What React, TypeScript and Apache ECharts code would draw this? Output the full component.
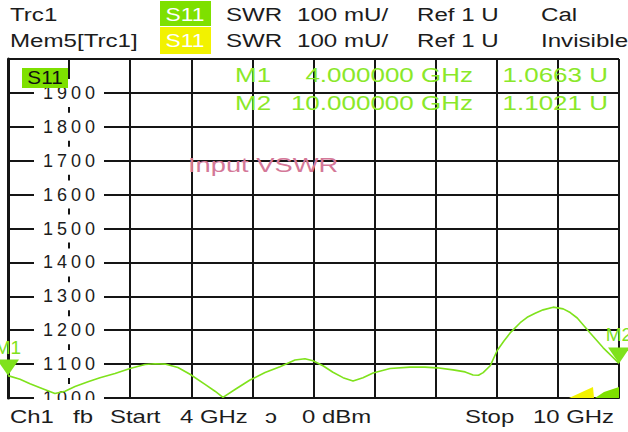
import React, { useEffect, useRef } from 'react';
import * as echarts from 'echarts';

// ---- data ----
const freqGHz = [
  4.0, 4.118, 4.216, 4.334, 4.461, 4.56, 4.658, 4.786, 4.903, 5.051, 5.198, 5.346, 5.444, 5.542,
  5.669, 5.787, 5.935, 6.033, 6.111, 6.229, 6.376, 6.524, 6.671, 6.818, 6.916, 6.995, 7.093, 7.191,
  7.29, 7.388, 7.486, 7.585, 7.752, 7.948, 8.095, 8.213, 8.371, 8.489, 8.567, 8.62, 8.666, 8.735,
  8.804, 8.87, 8.931, 9.03, 9.098, 9.177, 9.255, 9.354, 9.452, 9.521, 9.59, 9.717, 9.845, 9.923, 10.0,
];
const vswr = [
  1066, 1055, 1042, 1028, 1013, 1020, 1034, 1048, 1060, 1072, 1087, 1099, 1101, 1100,
  1090, 1070, 1040, 1020, 1002, 1025, 1053, 1075, 1092, 1112, 1116, 1110, 1095, 1076,
  1060, 1050, 1060, 1074, 1087, 1091, 1091, 1089, 1083, 1077, 1068, 1067, 1075, 1095,
  1140, 1168, 1192, 1222, 1238, 1250, 1260, 1268, 1263, 1252, 1236, 1192, 1148, 1125, 1102,
];
const markerNames = ['M1', 'M2'];
const markerFreqs = [4.0, 10.0];
const markerValues = [1066.3, 1102.1];
const yMin = 1000;
const yMax = 2000;
const yStep = 100;
const xStart = 4;
const xStop = 10;
const divisions = 10;

const headerRow1 = ['Trc1', 'S11', 'SWR', '100 mU/', 'Ref 1 U', 'Cal'];
const headerRow2 = ['Mem5[Trc1]', 'S11', 'SWR', '100 mU/', 'Ref 1 U', 'Invisible'];
const footerTexts = ['Ch1', 'fb', 'Start', '4 GHz', 'ɔ', '0 dBm', 'Stop', '10 GHz'];
const titleText = 'Input VSWR';

// ---- styles ----
const FONT = '"Liberation Sans", Arial, sans-serif';
const GRID = '#151515';
const TRACE = '#7fe21c';
const READOUT = '#8ae82a';
const BOXGREEN = '#7ee000';
const BOXYELLOW = '#f2f200';
const TEXT = '#1c1c1c';
const PINK = '#d47898';

type TOpts = { size?: number; fill?: string; align?: string; sx?: number; z?: number };
const txt = (text: string, x: number, y: number, o: TOpts = {}) => ({
  type: 'text',
  x,
  y,
  scaleX: o.sx ?? 1.3,
  z: o.z ?? 10,
  style: {
    text,
    fill: o.fill ?? TEXT,
    fontSize: o.size ?? 19,
    fontFamily: FONT,
    align: o.align ?? 'left',
    verticalAlign: 'middle',
  },
});

const headerX = [10, 185, 226, 297, 417, 541];
const footerX = [10, 73, 110, 180, 265, 302, 465, 533];

function buildGraphic() {
  const g: any[] = [];
  // header
  g.push({ type: 'rect', z: 9, shape: { x: 160, y: 1, width: 51, height: 25 }, style: { fill: BOXGREEN } });
  g.push({ type: 'rect', z: 9, shape: { x: 160, y: 27, width: 51, height: 27 }, style: { fill: BOXYELLOW } });
  headerRow1.forEach((t, i) => {
    g.push(txt(t, headerX[i], 14, i === 1 ? { fill: '#ffffff', align: 'center', sx: 1.2 } : { sx: 1.27 }));
  });
  headerRow2.forEach((t, i) => {
    g.push(txt(t, headerX[i], 40, i === 1 ? { fill: '#ffffff', align: 'center', sx: 1.2 } : { sx: 1.27 }));
  });
  // S11 tag in plot
  g.push({ type: 'rect', z: 9, shape: { x: 22, y: 68, width: 46, height: 20 }, style: { fill: BOXGREEN } });
  g.push(txt('S11', 45, 78, { align: 'center', size: 18, sx: 1.15, fill: '#101010' }));
  // marker readouts
  markerNames.forEach((n, i) => {
    const y = 75 + i * 28;
    g.push(txt(n, 235, y, { fill: READOUT, size: 20 }));
    g.push(txt(`${markerFreqs[i].toFixed(6)} GHz`, 473, y, { fill: READOUT, size: 20, align: 'right' }));
    g.push(txt(`${(markerValues[i] / 1000).toFixed(4)} U`, 608, y, { fill: READOUT, size: 20, align: 'right' }));
  });
  // title
  g.push(txt(titleText, 188, 165, { fill: PINK, size: 21 }));
  // small wedges at bottom right
  g.push({ type: 'polygon', z: 8, shape: { points: [[569, 398], [593, 387], [594, 398]] }, style: { fill: BOXYELLOW } });
  g.push({ type: 'polygon', z: 8, shape: { points: [[595, 398], [604, 392], [619, 387], [619, 398]] }, style: { fill: BOXGREEN } });
  // footer
  g.push({ type: 'rect', z: 7, shape: { x: 0, y: 400, width: 628, height: 32 }, style: { fill: '#ffffff' } });
  footerTexts.forEach((t, i) => {
    g.push(txt(t, footerX[i], 417, { size: 18, sx: 1.33 }));
  });
  return g;
}

const digitLabel = (v: number) =>
  String(Math.round(v))
    .split('')
    .map((c) => `{d|${c}}`)
    .join('');

const option: any = {
  animation: false,
  backgroundColor: '#ffffff',
  grid: { left: 8, right: 9, top: 59, bottom: 34, containLabel: false },
  xAxis: [
    {
      type: 'value',
      min: xStart,
      max: xStop,
      position: 'bottom',
      axisLine: { show: true, onZero: false, lineStyle: { color: GRID, width: 2 } },
      axisTick: { show: false },
      axisLabel: { show: false },
      splitLine: { show: false },
    },
    {
      type: 'value',
      min: 0,
      max: divisions,
      interval: 1,
      position: 'top',
      axisLine: { show: false },
      axisTick: { show: false },
      axisLabel: { show: false },
      splitLine: { show: true, lineStyle: { color: GRID, width: 2 } },
    },
  ],
  yAxis: [
    {
      type: 'value',
      min: yMin,
      max: yMax,
      interval: yStep,
      position: 'left',
      axisLine: { show: true, onZero: false, lineStyle: { color: GRID, width: 3 } },
      axisTick: { show: false },
      axisLabel: { show: false },
      splitLine: { show: true, lineStyle: { color: GRID, width: 2 } },
    },
    {
      type: 'value',
      min: yMin,
      max: yMax,
      interval: yStep,
      position: 'left',
      offset: 0,
      z: 1,
      axisLine: { show: false, onZero: false },
      axisTick: { show: false },
      splitLine: { show: false },
      axisLabel: {
        inside: true,
        margin: 61,
        align: 'center',
        showMaxLabel: false,
        showMinLabel: true,
        backgroundColor: '#ffffff',
        padding: [7, 7],
        formatter: (v: number) => digitLabel(v),
        rich: {
          d: { width: 14, align: 'center', fontSize: 18, lineHeight: 14, fontFamily: FONT, color: TEXT },
        },
      },
    },
  ],
  series: [
    {
      type: 'line',
      xAxisIndex: 0,
      yAxisIndex: 0,
      z: 2,
      data: freqGHz.map((f, i) => [f, vswr[i]]),
      showSymbol: false,
      lineStyle: { color: TRACE, width: 1.6 },
      markPoint: {
        symbol: 'path://M0,0 L22,0 L11,16 Z',
        symbolSize: [22, 16],
        symbolOffset: [0, -8],
        itemStyle: { color: TRACE },
        label: {
          show: true,
          position: 'top',
          distance: 3,
          color: TRACE,
          fontSize: 19,
          fontFamily: FONT,
          formatter: '{b}',
        },
        data: markerNames.map((n, i) => ({ name: n, coord: [markerFreqs[i], markerValues[i]] })),
      },
    },
  ],
  graphic: buildGraphic(),
};

export default function App() {
  const ref = useRef<HTMLDivElement>(null);
  useEffect(() => {
    const chart = echarts.init(ref.current!, undefined, { renderer: 'svg' });
    chart.setOption(option);
    return () => chart.dispose();
  }, []);
  return (
    <div
      ref={ref}
      style={{ position: 'fixed', left: 0, top: 0, width: 628, height: 432, background: '#fff' }}
    />
  );
}
